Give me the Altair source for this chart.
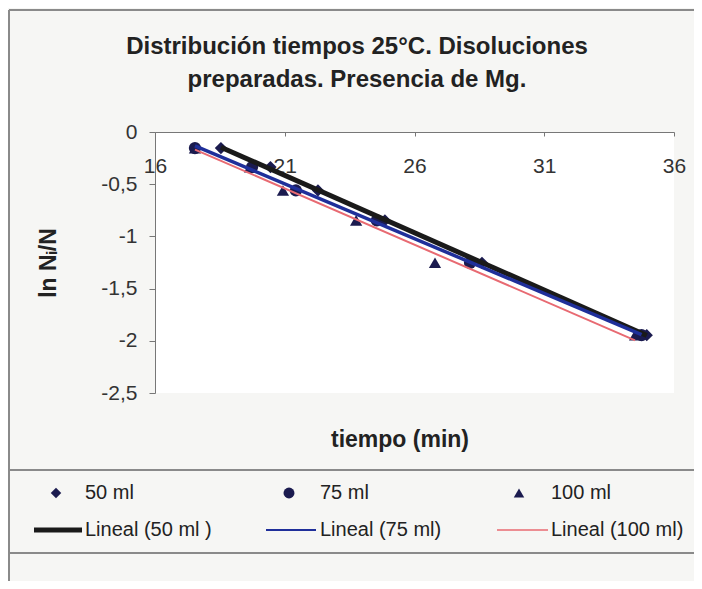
import altair as alt
import pandas as pd

# ---- data ----
series_names = ["50 ml", "75 ml", "100 ml"]
t_50 = [18.54, 20.45, 22.28, 24.86, 28.60, 34.95]
t_75 = [17.54, 19.74, 21.43, 24.55, 28.14, 34.75]
t_100 = [17.54, 19.66, 20.93, 23.75, 26.79, 34.50]
ln_ratio = [-0.154, -0.336, -0.560, -0.847, -1.253, -1.946]
x_ticks = [16, 21, 26, 31, 36]
y_ticks = [0, -0.5, -1, -1.5, -2, -2.5]

rows = []
for name, ts in zip(series_names, [t_50, t_75, t_100]):
    for t, v in zip(ts, ln_ratio):
        rows.append({"serie": name, "t": t, "ln": v})
df = pd.DataFrame(rows)

W, H = 519, 261
X0, Y0 = 155, 132  # plot origin on the page
FONT = "Liberation Sans"
MARK = "#1b1b4f"


def rx(px):
    return px - X0


def ry(py):
    return py - Y0


x_enc = alt.X(
    "t:Q",
    scale=alt.Scale(domain=[16, 36], nice=False, zero=False),
    axis=alt.Axis(orient="bottom", offset=-H, values=x_ticks, title=None, grid=False,
                  labelFontSize=21, labelColor="#333333", labelFont=FONT,
                  labelPadding=19, tickSize=4, tickColor="#777777",
                  domainColor="#777777", labelFlush=False),
)
y_enc = alt.Y(
    "ln:Q",
    scale=alt.Scale(domain=[-2.5, 0], nice=False, zero=False),
    axis=alt.Axis(values=y_ticks, grid=False,
                  labelExpr="(datum.value < 0 ? '-' : '') + replace(toString(abs(datum.value)), '.', ',')",
                  labelFontSize=21, labelColor="#333333", labelFont=FONT,
                  labelPadding=12, tickSize=6, tickColor="#777777", domainColor="#777777",
                  title="ln Nᵢ/N", titleFont=FONT, titleFontSize=23, titleFontWeight="bold",
                  titleColor="#222222", titlePadding=40),
)

sw_scale = alt.Scale(domain=series_names, range=[5, 2, 1.2])
col_scale = alt.Scale(domain=series_names, range=["#1a1a1a", "#1f2f9a", "#e86a72"])
shape_scale = alt.Scale(domain=series_names, range=["diamond", "circle", "triangle-up"])

points = alt.Chart(df).mark_point(filled=True, size=150, color=MARK, opacity=1).encode(
    x=x_enc, y=y_enc,
    shape=alt.Shape("serie:N", scale=shape_scale, legend=None),
)

trend = alt.Chart(df).transform_regression("t", "ln", groupby=["serie"]).mark_line().encode(
    x="t:Q", y="ln:Q",
    color=alt.Color("serie:N", scale=col_scale, legend=None),
    strokeWidth=alt.StrokeWidth("serie:N", scale=sw_scale, legend=None),
)

one = alt.Data(values=[{}])


def txt(s, px, py, size=20, bold=False, align="left", color="#222222"):
    return alt.Chart(one).mark_text(
        text=s, font=FONT, fontSize=size, fontWeight="bold" if bold else "normal",
        align=align, baseline="middle", color=color,
    ).encode(x=alt.value(rx(px)), y=alt.value(ry(py)))


def hrule(px1, px2, py, color="#8a8a8a", w=2):
    return alt.Chart(one).mark_rule(color=color, strokeWidth=w).encode(
        x=alt.value(rx(px1)), x2=alt.value(rx(px2)), y=alt.value(ry(py)))


def vrule(px, py1, py2, color="#8a8a8a", w=2):
    return alt.Chart(one).mark_rule(color=color, strokeWidth=w).encode(
        x=alt.value(rx(px)), y=alt.value(ry(py1)), y2=alt.value(ry(py2)))


def sym(shape, px, py, size=110):
    return alt.Chart(one).mark_point(shape=shape, filled=True, size=size, color=MARK, opacity=1).encode(
        x=alt.value(rx(px)), y=alt.value(ry(py)))


def seg(px1, px2, py, color, w):
    return alt.Chart(one).mark_rule(color=color, strokeWidth=w).encode(
        x=alt.value(rx(px1)), x2=alt.value(rx(px2)), y=alt.value(ry(py)))


decor = [
    vrule(9, 10, 589),
    hrule(9, 702, 10),
    hrule(9, 702, 470),
    hrule(9, 702, 553),
    txt("Distribución tiempos 25°C. Disoluciones", 357, 47, size=24, bold=True, align="center"),
    txt("preparadas. Presencia de Mg.", 357, 80, size=24, bold=True, align="center"),
    txt("tiempo (min)", 400, 440, size=23, bold=True, align="center"),
    # legend row 1
    sym("diamond", 56, 493, 110),
    txt("50 ml", 85, 493),
    sym("circle", 289, 493, 120),
    txt("75 ml", 320, 493),
    sym("triangle-up", 519, 493, 110),
    txt("100 ml", 551, 493),
    # legend row 2
    seg(34, 82, 530, "#1a1a1a", 5),
    txt("Lineal (50 ml )", 85, 530),
    seg(266, 316, 530, "#1f2f9a", 2),
    txt("Lineal (75 ml)", 320, 530),
    seg(497, 548, 530, "#e86a72", 1.5),
    txt("Lineal (100 ml)", 551, 530),
]

chart = alt.layer(points, trend, *decor).properties(
    width=W, height=H,
    autosize=alt.AutoSizeParams(type="none"),
    padding={"left": X0 - 8, "top": Y0 - 8, "right": 694 - X0 - W, "bottom": 581 - Y0 - H},
    background="#f6f6f4",
).configure_view(fill="white", stroke=None)

chart.save("out.html", embed_options={"renderer": "svg", "actions": False})
